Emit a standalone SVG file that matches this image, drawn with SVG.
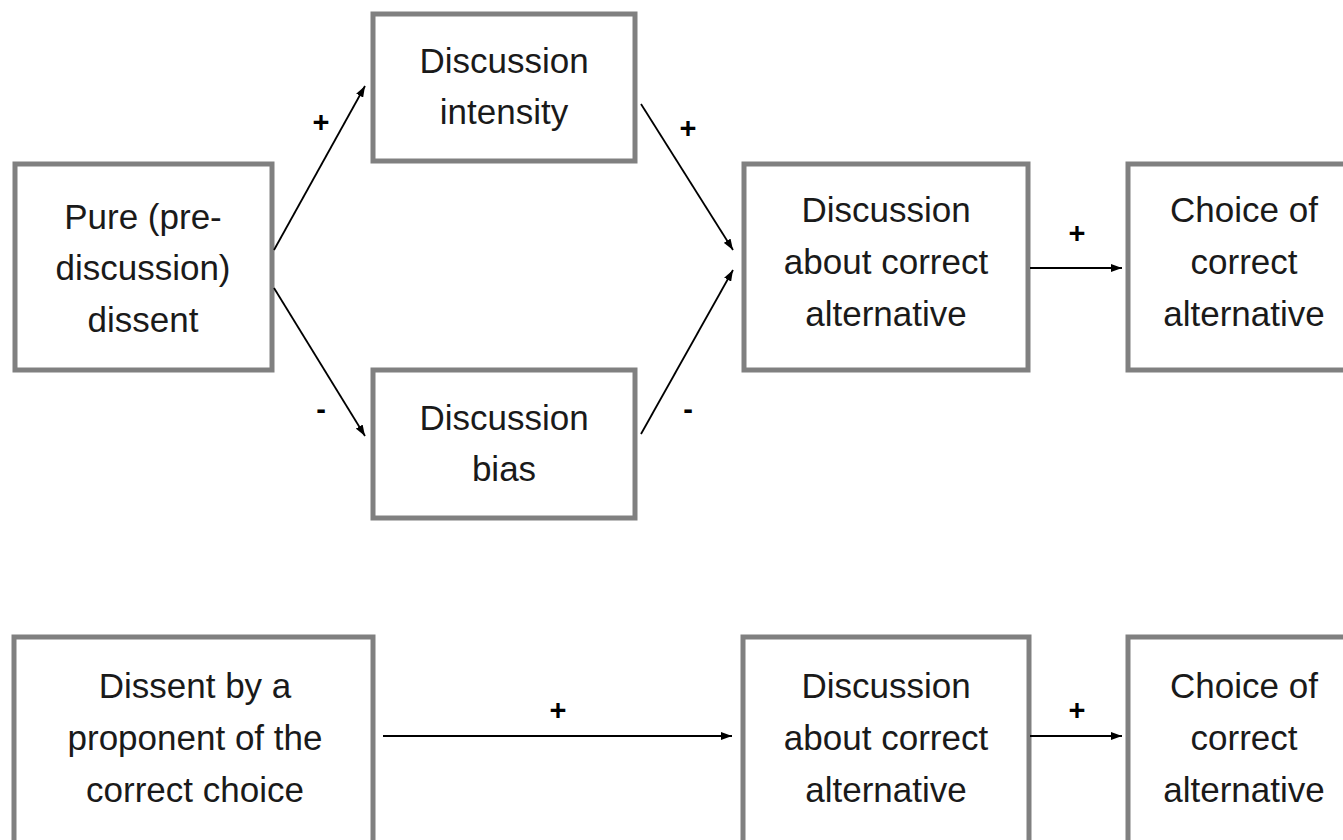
<svg xmlns="http://www.w3.org/2000/svg" width="1343" height="840" viewBox="0 0 1343 840">
<style>
.box{fill:#fff;stroke:#808080;stroke-width:5}
.t{font-family:"Liberation Sans",Arial,sans-serif;font-size:35px;fill:#1a1a1a;text-anchor:middle}
.s{font-family:"Liberation Sans",Arial,sans-serif;font-size:29px;font-weight:bold;fill:#000;text-anchor:middle}
.c{stroke:#000;stroke-width:1.8;fill:none;marker-end:url(#ah)}
</style>
<defs>
<marker id="ah" viewBox="0 0 11 8" refX="11" refY="4" markerWidth="11" markerHeight="8" markerUnits="userSpaceOnUse" orient="auto">
<path d="M0,0 L11,4 L0,8 z" fill="#000"/>
</marker>
</defs>
<rect width="1343" height="840" fill="#fff"/>
<g id="pure">
<rect class="box" x="15" y="164" width="257" height="206"/>
<text class="t" x="143" y="229">Pure (pre-</text>
<text class="t" x="143" y="280">discussion)</text>
<text class="t" x="143" y="332">dissent</text>
</g>
<g id="intensity">
<rect class="box" x="373" y="14" width="262" height="147"/>
<text class="t" x="504" y="73">Discussion</text>
<text class="t" x="504" y="124">intensity</text>
</g>
<g id="bias">
<rect class="box" x="373" y="370" width="262" height="148"/>
<text class="t" x="504" y="430">Discussion</text>
<text class="t" x="504" y="481">bias</text>
</g>
<g id="discussion1">
<rect class="box" x="744" y="164" width="284" height="206"/>
<text class="t" x="886" y="222">Discussion</text>
<text class="t" x="886" y="274">about correct</text>
<text class="t" x="886" y="326">alternative</text>
</g>
<g id="choice1">
<rect class="box" x="1128" y="164" width="234" height="206"/>
<text class="t" x="1244" y="222">Choice of</text>
<text class="t" x="1244" y="274">correct</text>
<text class="t" x="1244" y="326">alternative</text>
</g>
<g id="dissent2">
<rect class="box" x="14" y="637" width="359" height="220"/>
<text class="t" x="195" y="698">Dissent by a</text>
<text class="t" x="195" y="750">proponent of the</text>
<text class="t" x="195" y="802">correct choice</text>
</g>
<g id="discussion2">
<rect class="box" x="743" y="637" width="286" height="220"/>
<text class="t" x="886" y="698">Discussion</text>
<text class="t" x="886" y="750">about correct</text>
<text class="t" x="886" y="802">alternative</text>
</g>
<g id="choice2">
<rect class="box" x="1128" y="637" width="234" height="220"/>
<text class="t" x="1244" y="698">Choice of</text>
<text class="t" x="1244" y="750">correct</text>
<text class="t" x="1244" y="802">alternative</text>
</g>
<g id="connectors">
<line class="c" x1="274" y1="250" x2="365" y2="86"/>
<line class="c" x1="274" y1="288" x2="365" y2="436"/>
<line class="c" x1="641" y1="104" x2="733" y2="250"/>
<line class="c" x1="641" y1="434" x2="733" y2="270"/>
<line class="c" x1="1030" y1="268" x2="1122" y2="268"/>
<line class="c" x1="383" y1="736" x2="732" y2="736"/>
<line class="c" x1="1030" y1="736" x2="1122" y2="736"/>
</g>
<g id="labels">
<text class="s" x="321" y="132">+</text>
<text class="s" x="688" y="138">+</text>
<text class="s" x="321" y="419">-</text>
<text class="s" x="688" y="419">-</text>
<text class="s" x="1077" y="243">+</text>
<text class="s" x="558" y="720">+</text>
<text class="s" x="1077" y="720">+</text>
</g>
</svg>
